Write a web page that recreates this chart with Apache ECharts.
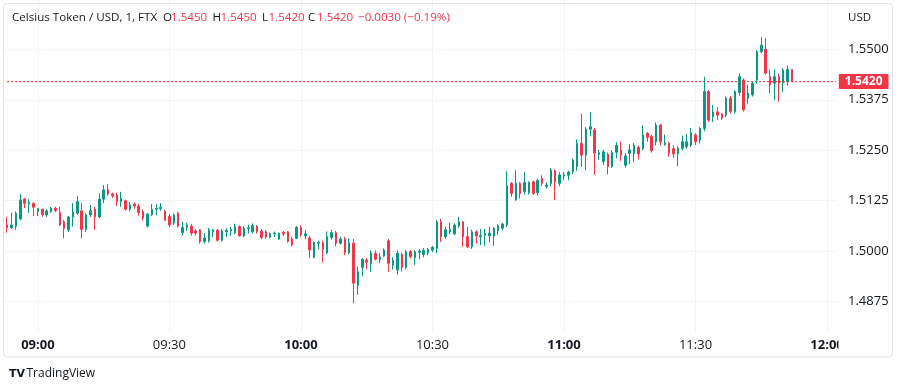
<!DOCTYPE html>
<html><head><meta charset="utf-8">
<script src="https://cdn.jsdelivr.net/npm/echarts@6/dist/echarts.min.js"></script>
<style>html,body{margin:0;padding:0;background:#fff}#c{width:900px;height:386px}</style>
</head><body><div id="c"></div><script>
// ---- data (1-minute candles, 08:53 .. 11:52) ----
var startTime = '08:53';
var slotCount = 190; // minutes on the time scale (08:53 .. 12:02)
var open = [1.5065,1.5058,1.5062,1.5080,1.5129,1.5117,1.5119,1.5098,1.5104,1.5090,
1.5098,1.5106,1.5096,1.5073,1.5053,1.5085,1.5094,1.5100,1.5054,1.5090,
1.5104,1.5085,1.5129,1.5152,1.5142,1.5139,1.5123,1.5125,1.5104,1.5117,
1.5112,1.5098,1.5062,1.5090,1.5104,1.5105,1.5099,1.5086,1.5070,1.5094,
1.5046,1.5059,1.5062,1.5050,1.5053,1.5024,1.5026,1.5048,1.5052,1.5027,
1.5048,1.5050,1.5046,1.5061,1.5038,1.5056,1.5048,1.5061,1.5050,1.5048,
1.5035,1.5043,1.5030,1.5047,1.5048,1.5030,1.5032,1.5059,1.5038,1.5033,
1.4985,1.5020,1.5021,1.4996,1.5034,1.5046,1.5020,1.5030,1.4996,1.5020,
1.4916,1.4960,1.4978,1.4970,1.4995,1.4980,1.4988,1.5026,1.4965,1.4954,
1.4992,1.4960,1.4999,1.4984,1.4997,1.4992,1.4996,1.5003,1.5007,1.5073,
1.5036,1.5048,1.5043,1.5062,1.5073,1.5036,1.5011,1.5048,1.5036,1.5039,
1.5038,1.5038,1.5051,1.5057,1.5065,1.5168,1.5127,1.5168,1.5148,1.5145,
1.5172,1.5145,1.5180,1.5160,1.5168,1.5199,1.5168,1.5186,1.5188,1.5197,
1.5209,1.5267,1.5238,1.5302,1.5300,1.5240,1.5222,1.5240,1.5210,1.5245,
1.5250,1.5213,1.5242,1.5242,1.5257,1.5254,1.5292,1.5284,1.5271,1.5312,
1.5264,1.5267,1.5254,1.5241,1.5255,1.5259,1.5263,1.5288,1.5275,1.5304,
1.5395,1.5333,1.5345,1.5340,1.5337,1.5379,1.5346,1.5393,1.5424,1.5379,
1.5387,1.5424,1.5494,1.5500,1.5432,1.5416,1.5432,1.5417,1.5420,1.5450];
var close = [1.5058,1.5065,1.5094,1.5127,1.5119,1.5121,1.5109,1.5105,1.5091,1.5100,
1.5106,1.5101,1.5065,1.5057,1.5085,1.5097,1.5123,1.5054,1.5090,1.5100,
1.5085,1.5129,1.5152,1.5142,1.5137,1.5123,1.5131,1.5104,1.5114,1.5112,
1.5096,1.5082,1.5092,1.5104,1.5106,1.5109,1.5077,1.5065,1.5090,1.5062,
1.5059,1.5065,1.5045,1.5045,1.5024,1.5033,1.5054,1.5052,1.5027,1.5050,
1.5052,1.5054,1.5062,1.5038,1.5057,1.5058,1.5064,1.5049,1.5034,1.5035,
1.5044,1.5045,1.5044,1.5043,1.5024,1.5016,1.5059,1.5041,1.5043,1.5003,
1.5022,1.5022,1.5005,1.5036,1.5046,1.5020,1.5030,1.4996,1.5021,1.4921,
1.4949,1.4980,1.4973,1.4996,1.4980,1.4986,1.5003,1.4970,1.4977,1.4995,
1.4960,1.4999,1.4987,1.4999,1.5000,1.5002,1.5004,1.5010,1.5073,1.5036,
1.5053,1.5054,1.5065,1.5073,1.5036,1.5011,1.5048,1.5038,1.5039,1.5043,
1.5045,1.5057,1.5063,1.5067,1.5162,1.5143,1.5168,1.5143,1.5170,1.5170,
1.5143,1.5175,1.5168,1.5164,1.5201,1.5172,1.5189,1.5189,1.5196,1.5226,
1.5267,1.5238,1.5302,1.5308,1.5243,1.5244,1.5246,1.5209,1.5245,1.5262,
1.5238,1.5236,1.5251,1.5262,1.5241,1.5288,1.5282,1.5249,1.5312,1.5271,
1.5268,1.5244,1.5241,1.5255,1.5271,1.5271,1.5293,1.5271,1.5304,1.5395,
1.5325,1.5345,1.5337,1.5330,1.5379,1.5346,1.5395,1.5432,1.5350,1.5391,
1.5416,1.5494,1.5510,1.5441,1.5412,1.5432,1.5416,1.5449,1.5450,1.5420];
var low = [1.5046,1.5055,1.5053,1.5077,1.5107,1.5095,1.5087,1.5087,1.5085,1.5085,
1.5095,1.5097,1.5062,1.5032,1.5048,1.5061,1.5090,1.5032,1.5048,1.5085,
1.5053,1.5081,1.5119,1.5137,1.5132,1.5112,1.5110,1.5100,1.5099,1.5105,
1.5088,1.5076,1.5059,1.5087,1.5089,1.5100,1.5075,1.5059,1.5065,1.5059,
1.5039,1.5050,1.5039,1.5039,1.5019,1.5019,1.5021,1.5035,1.5024,1.5024,
1.5035,1.5038,1.5042,1.5036,1.5035,1.5044,1.5044,1.5044,1.5030,1.5030,
1.5033,1.5035,1.5028,1.5038,1.5021,1.5012,1.5030,1.5036,1.5030,1.4983,
1.4982,1.5005,1.4972,1.4993,1.5029,1.5012,1.5016,1.4990,1.4993,1.4871,
1.4892,1.4938,1.4955,1.4949,1.4978,1.4970,1.4986,1.4949,1.4955,1.4942,
1.4950,1.4955,1.4982,1.4966,1.4980,1.4985,1.4990,1.4998,1.4995,1.5023,
1.5030,1.5042,1.5040,1.5058,1.5011,1.5008,1.5006,1.5019,1.5015,1.5013,
1.5021,1.5013,1.5040,1.5052,1.5060,1.5135,1.5125,1.5130,1.5140,1.5140,
1.5140,1.5138,1.5161,1.5155,1.5161,1.5127,1.5161,1.5176,1.5176,1.5191,
1.5199,1.5209,1.5201,1.5285,1.5189,1.5226,1.5214,1.5190,1.5206,1.5230,
1.5224,1.5207,1.5216,1.5221,1.5227,1.5250,1.5271,1.5244,1.5262,1.5262,
1.5261,1.5234,1.5231,1.5211,1.5250,1.5254,1.5258,1.5263,1.5267,1.5297,
1.5320,1.5320,1.5325,1.5325,1.5332,1.5341,1.5341,1.5385,1.5346,1.5365,
1.5383,1.5415,1.5490,1.5437,1.5391,1.5374,1.5370,1.5394,1.5410,1.5420];
var high = [1.5085,1.5095,1.5098,1.5142,1.5132,1.5129,1.5120,1.5107,1.5105,1.5104,
1.5110,1.5110,1.5110,1.5077,1.5087,1.5119,1.5137,1.5119,1.5094,1.5114,
1.5110,1.5143,1.5164,1.5166,1.5145,1.5145,1.5147,1.5128,1.5122,1.5120,
1.5118,1.5103,1.5095,1.5117,1.5117,1.5119,1.5102,1.5092,1.5094,1.5097,
1.5073,1.5070,1.5067,1.5055,1.5055,1.5045,1.5057,1.5055,1.5055,1.5055,
1.5057,1.5060,1.5068,1.5064,1.5062,1.5066,1.5069,1.5065,1.5055,1.5053,
1.5046,1.5049,1.5046,1.5050,1.5050,1.5036,1.5062,1.5064,1.5052,1.5038,
1.5024,1.5026,1.5026,1.5049,1.5053,1.5050,1.5036,1.5036,1.5032,1.5030,
1.4962,1.4983,1.4983,1.5002,1.5002,1.4996,1.5007,1.5030,1.4985,1.5002,
1.4997,1.5003,1.5003,1.5003,1.5005,1.5008,1.5008,1.5013,1.5077,1.5080,
1.5060,1.5071,1.5069,1.5085,1.5075,1.5060,1.5053,1.5052,1.5055,1.5055,
1.5060,1.5060,1.5067,1.5070,1.5198,1.5171,1.5201,1.5171,1.5196,1.5173,
1.5175,1.5179,1.5188,1.5171,1.5206,1.5203,1.5196,1.5196,1.5199,1.5230,
1.5277,1.5341,1.5307,1.5345,1.5305,1.5251,1.5251,1.5244,1.5250,1.5270,
1.5271,1.5243,1.5265,1.5268,1.5262,1.5312,1.5295,1.5288,1.5319,1.5315,
1.5289,1.5271,1.5262,1.5260,1.5286,1.5290,1.5305,1.5292,1.5307,1.5432,
1.5399,1.5362,1.5357,1.5342,1.5383,1.5384,1.5399,1.5440,1.5428,1.5412,
1.5420,1.5498,1.5530,1.5528,1.5450,1.5450,1.5440,1.5454,1.5460,1.5450];
// price scale: visible tick labels every 0.0125, axis steps of 0.0025
var yMin = 1.48, yMax = 1.5625, yStep = 0.0025, yLabelStep = 0.0125;
var yLabelMin = 1.4875, yLabelMax = 1.55;
var symbolTitle = 'Celsius Token / USD, 1, FTX';
var quoteCurrency = 'USD';

// ---- build ----
function pad(n){return (n<10?'0':'')+n;}
var categories = [];
(function(){
  var p = startTime.split(':'); var m = (+p[0])*60 + (+p[1]);
  for (var i=0;i<slotCount;i++){ var t=m+i; categories.push(pad(Math.floor(t/60))+':'+pad(t%60)); }
})();
var ohlc = open.map(function(o,i){ return [o, close[i], low[i], high[i]]; });
var last = ohlc.length-1;
var lo = open[last], lc = close[last], lh = high[last], ll = low[last];
var chg = lc - open[last];
var UP='#089981', DOWN='#f23645', TXT='#131722', GRID='#f0f3fa';
var FF = '"Open Sans", Roboto, sans-serif';
function isMajor(idx, val){ var mm = (val||categories[idx]).slice(3); return mm==='00'||mm==='30'; }
function isLabelTick(v){ var q=(v-yLabelMin)/yLabelStep; return Math.abs(q-Math.round(q))<1e-6 && v>yLabelMin-1e-6 && v<yLabelMax+1e-6; }
// split line colours cycle per 0.0025 step: only every 5th (0.0125 multiples) is visible
var splitColors = [];
for (var k=0;k<5;k++){ splitColors.push(isLabelTick(yMin + (k+5)*yStep) ? GRID : 'rgba(255,255,255,0)'); }
// last-price line spans the whole time scale
var priceLine = [[categories[0], lc], [categories[slotCount-1], lc]];

var HF = '11.6px '+FF;
var hdr = [
  {x:12, t:symbolTitle, c:TXT},
  {x:163, t:'O', c:TXT}, {x:171, t:lo.toFixed(4), c:DOWN},
  {x:212.5, t:'H', c:TXT}, {x:220.5, t:lh.toFixed(4), c:DOWN},
  {x:262, t:'L', c:TXT}, {x:268.5, t:ll.toFixed(4), c:DOWN},
  {x:308, t:'C', c:TXT}, {x:317, t:lc.toFixed(4), c:DOWN},
  {x:358, t:'\u2212'+Math.abs(chg).toFixed(4)+' (\u2212'+Math.abs(chg/open[last]*100).toFixed(2)+'%)', c:DOWN}
];
var graphics = [
  {type:'rect', shape:{x:3.5,y:3.5,width:889,height:353.5,r:4}, style:{fill:'none',stroke:'#e0e3eb',lineWidth:1}, z:1, silent:true},
  {type:'rect', shape:{x:838.5,y:334,width:53,height:20}, style:{fill:'#fff'}, z:100, silent:true},
  {type:'text', x:848, y:18, style:{text:quoteCurrency, font:'11.5px '+FF, fill:TXT, verticalAlign:'middle'}, z:100},
  {type:'text', x:9, y:374, style:{text:'TV', font:'bold 11px "DejaVu Sans"', fill:TXT, verticalAlign:'middle'}, z:100},
  {type:'text', x:26.5, y:374, style:{text:'TradingView', font:'12px '+FF, fill:TXT, verticalAlign:'middle'}, z:100}
];
hdr.forEach(function(h){ graphics.push({type:'text', x:h.x, y:18, style:{text:h.t, font:HF, fill:h.c, verticalAlign:'middle'}, z:100}); });

var chart = echarts.init(document.getElementById('c'), null, {renderer:'canvas'});
chart.setOption({
  animation:false,
  backgroundColor:'#fff',
  grid:{left:5, right:62, top:-1.2, bottom:54, containLabel:false, outerBoundsMode:'none'},
  xAxis:{
    type:'category', data:categories, boundaryGap:true,
    axisLine:{show:false}, axisTick:{show:false},
    axisLabel:{interval:isMajor, margin:7, fontSize:13, fontFamily:FF, color:TXT,
      formatter:function(v){ return v.slice(3)==='00' ? '{b|'+v+'}' : v; },
      rich:{b:{fontWeight:'bold', fontSize:13, fontFamily:FF, color:TXT}}},
    splitLine:{show:true, interval:isMajor, alignWithLabel:true, lineStyle:{color:GRID, width:1}}
  },
  yAxis:{
    type:'value', position:'right', min:yMin, max:yMax, interval:yStep, scale:true,
    axisLine:{show:false}, axisTick:{show:false},
    axisLabel:{margin:10, fontSize:13, fontFamily:FF, color:TXT,
      formatter:function(v){ return isLabelTick(v) ? v.toFixed(4) : ''; }},
    splitLine:{show:true, lineStyle:{color:splitColors, width:1}}
  },
  series:[{
    type:'line', data:priceLine, z:2, silent:true, symbol:'none', clip:false,
    lineStyle:{color:DOWN, type:[2,2], width:1.2, opacity:1},
    itemStyle:{color:DOWN},
    emphasis:{disabled:true},
    endLabel:{show:true, distance:3, formatter:lc.toFixed(4), color:'#fff',
      backgroundColor:DOWN, padding:[2,6,1,6], fontSize:12, fontWeight:'bold', fontFamily:FF, borderRadius:1}
  },{
    type:'candlestick', data:ohlc, barWidth:2, z:3,
    itemStyle:{color:UP, color0:DOWN, borderColor:UP, borderColor0:DOWN, borderWidth:1}
  }],
  graphic:graphics
});
</script></body></html>
